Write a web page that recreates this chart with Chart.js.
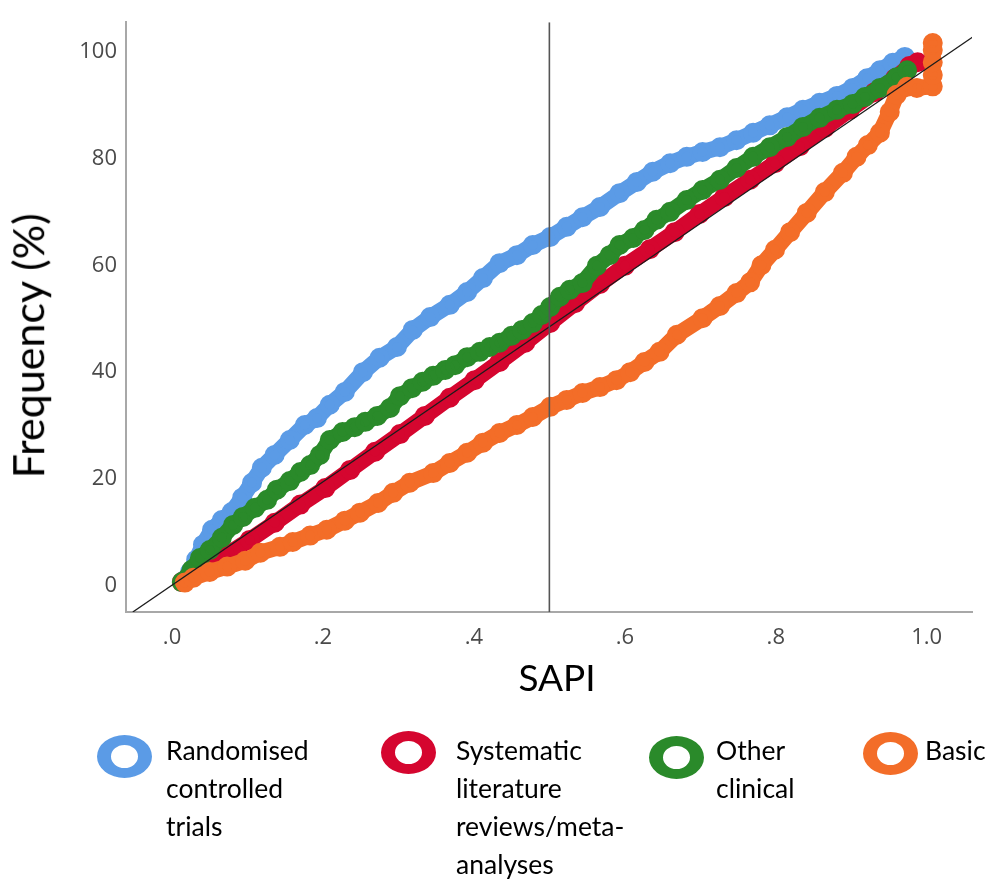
<!DOCTYPE html>
<html>
<head>
<meta charset="utf-8">
<script src="https://cdn.jsdelivr.net/npm/chart.js@4.4.1/dist/chart.umd.min.js"></script>
<style>
  html, body { margin: 0; padding: 0; background: #fff; }
  #wrap { position: relative; width: 986px; height: 886px; overflow: hidden; background: #fff; }
  #c { position: absolute; left: 0; top: 0; }
  .txt { position: absolute; font-family: Lato, "Open Sans", sans-serif; color: #000; line-height: 1.2; white-space: nowrap; }
  #xtitle { font-size: 37px; left: 557px; top: 655px; transform: translateX(-50%); }
  #ytitle { font-size: 43px; width: 320px; text-align: center; left: -131.6px; top: 320.2px; transform: rotate(-90deg); }
  .ring { position: absolute; box-sizing: border-box; border-style: solid; border-width: 10px 14px; border-radius: 50%; width: 55px; height: 43px; }
  .lgtext { position: absolute; font-family: Lato, "Open Sans", sans-serif; font-size: 26.5px; line-height: 38px; color: #000; white-space: nowrap; }
</style>
</head>
<body>
<div id="wrap">
  <canvas id="c" width="986" height="886"></canvas>
  <div class="txt" id="ytitle">Frequency (%)</div>
  <div class="txt" id="xtitle">SAPI</div>
  <div id="legend"></div>
</div>
<script>
// Cumulative frequency (%) of publications against SAPI, by study type
const seriesNames = [
  ["Randomised", "controlled", "trials"],
  ["Systematic", "literature", "reviews/meta-", "analyses"],
  ["Other", "clinical"],
  ["Basic"]
];
const seriesColors = ["#5b9be6", "#d5062f", "#2a8a2a", "#f36d28"];

const rctSapi = [0.015,0.024,0.032,0.041,0.053,0.066,0.079,0.093,0.106,0.119,0.136,0.156,0.176,0.192,0.209,0.229,0.253,0.275,0.298,0.319,0.342,0.368,0.391,0.412,0.434,0.457,0.478,0.501,0.523,0.544,0.567,0.593,0.616,0.637,0.660,0.682,0.703,0.726,0.748,0.770,0.792,0.815,0.836,0.858,0.881,0.902,0.921,0.938,0.955,0.971];
const rctFreq = [0.9,2.6,4.9,7.7,10.5,12.3,13.8,16.5,19.3,22.1,24.5,27.3,30.1,31.4,33.9,36.3,40.0,42.7,44.7,47.9,50.3,52.6,55.0,57.6,60.4,61.9,63.8,65.3,67.2,69.0,70.9,73.5,75.6,77.5,79.1,80.3,81.2,82.1,83.4,84.8,86.2,87.7,89.1,90.4,91.7,93.2,95.0,96.5,97.9,99.0];

const slrSapi = [0.013,0.037,0.070,0.103,0.136,0.170,0.203,0.236,0.269,0.302,0.335,0.368,0.401,0.434,0.468,0.501,0.534,0.567,0.600,0.633,0.666,0.699,0.732,0.766,0.799,0.832,0.865,0.898,0.931,0.958,0.977,0.988];
const slrFreq = [0.7,2.6,5.6,8.6,11.8,15.2,18.3,21.7,25.1,28.4,31.8,35.2,38.5,41.9,45.5,49.2,52.9,56.5,59.9,63.0,66.2,69.6,72.8,76.0,79.1,82.3,85.7,89.1,92.4,95.0,97.3,98.0];

const otherSapi = [0.013,0.026,0.037,0.050,0.066,0.081,0.094,0.110,0.126,0.139,0.156,0.170,0.183,0.196,0.209,0.226,0.242,0.256,0.272,0.289,0.302,0.318,0.332,0.346,0.362,0.375,0.391,0.408,0.421,0.434,0.450,0.464,0.478,0.490,0.501,0.514,0.527,0.544,0.563,0.580,0.593,0.611,0.626,0.642,0.660,0.682,0.703,0.726,0.748,0.770,0.792,0.815,0.836,0.858,0.881,0.902,0.918,0.938,0.960,0.974];
const otherFreq = [0.7,3.0,5.2,6.7,9.0,11.4,12.9,14.6,16.1,18.0,19.6,21.3,22.6,24.5,27.3,28.8,29.7,30.7,31.8,33.3,35.5,37.0,38.2,39.3,40.4,41.3,42.8,43.8,44.7,45.5,46.8,47.9,49.2,50.7,52.2,54.1,55.4,56.7,59.9,61.9,63.8,65.1,66.6,68.5,70.0,72.2,74.1,76.0,78.2,80.3,82.1,84.0,85.9,87.6,89.1,90.2,91.5,93.2,95.2,96.5];

const basicSapi = [0.017,0.028,0.050,0.073,0.097,0.117,0.143,0.160,0.183,0.205,0.229,0.249,0.273,0.293,0.315,0.346,0.368,0.391,0.412,0.434,0.457,0.478,0.501,0.523,0.544,0.567,0.589,0.607,0.626,0.646,0.669,0.703,0.726,0.748,0.766,0.781,0.799,0.819,0.841,0.865,0.889,0.907,0.922,0.938,0.951,0.960,0.974,0.987,1.008,1.008,1.008,1.008,1.008];
const basicFreq = [0.6,1.5,2.6,3.6,4.7,6.2,7.3,8.2,9.4,10.5,12.2,13.7,15.5,17.4,19.3,21.1,23.0,24.9,26.8,28.6,30.1,31.6,33.5,34.8,36.1,37.2,38.5,40.0,41.9,43.8,47.0,50.1,52.4,54.8,56.8,60.0,62.9,66.2,69.8,73.7,77.3,80.3,82.5,84.8,88.7,91.9,93.4,93.2,93.5,95.6,98.0,100.3,101.6];

// Reference lines: SAPI = 0.5 and the diagonal
const refSapi = 0.5;
const diagSapi = [-0.052, 1.07];
const diagFreq = [-4.9, 103.6];

// Axis ranges and ticks
const xMin = -0.061, xMax = 1.06;
const yMin = -4.9, yMax = 105.5;
const xTickValues = [0, 0.2, 0.4, 0.6, 0.8, 1.0];
const xTickLabels = [".0", ".2", ".4", ".6", ".8", "1.0"];
const yTickValues = [0, 20, 40, 60, 80, 100];

const toPoints = (xs, ys) => xs.map((x, i) => ({ x: x, y: ys[i] }));

function bandDataset(idx, xs, ys, order) {
  const col = seriesColors[idx];
  return {
    label: seriesNames[idx].join(" "),
    data: toPoints(xs, ys),
    showLine: true,
    borderColor: col,
    borderWidth: 16,
    borderJoinStyle: "round",
    borderCapStyle: "round",
    tension: 0,
    pointStyle: "circle",
    pointRadius: 7.5,
    pointBorderWidth: 5,
    pointBorderColor: col,
    pointBackgroundColor: "rgba(255,255,255,0)",
    order: order
  };
}

const datasets = [
  {
    label: "SAPI 0.5",
    data: [{ x: refSapi, y: yMin }, { x: refSapi, y: yMax }],
    showLine: true, borderColor: "#555555", borderWidth: 1.6,
    pointRadius: 0, order: 0
  },
  {
    label: "Diagonal",
    data: toPoints(diagSapi, diagFreq),
    showLine: true, borderColor: "#1c1c1c", borderWidth: 1.3,
    pointRadius: 0, order: 0
  },
  bandDataset(3, basicSapi, basicFreq, 1),
  bandDataset(2, otherSapi, otherFreq, 2),
  bandDataset(1, slrSapi, slrFreq, 3),
  bandDataset(0, rctSapi, rctFreq, 4)
];

const tickFont = { family: "'Open Sans', sans-serif", size: 22 };

new Chart(document.getElementById("c"), {
  type: "scatter",
  data: { datasets: datasets },
  options: {
    responsive: false,
    animation: false,
    events: [],
    layout: { padding: { top: 22, right: 14, left: 0, bottom: 0 } },
    plugins: { legend: { display: false }, tooltip: { enabled: false } },
    scales: {
      x: {
        type: "linear", min: xMin, max: xMax,
        grid: { display: false, drawTicks: false },
        border: { display: true, color: "#a8a8a8", width: 2 },
        ticks: {
          padding: 13, font: tickFont, color: "#4a4a4a", maxRotation: 0, autoSkip: false,
          callback: (v) => {
            const i = xTickValues.findIndex(t => Math.abs(t - v) < 1e-9);
            return i >= 0 ? xTickLabels[i] : "";
          }
        },
        afterBuildTicks: (s) => { s.ticks = xTickValues.map(v => ({ value: v })); },
        afterFit: (s) => { s.height = 274; }
      },
      y: {
        type: "linear", min: yMin, max: yMax,
        grid: { display: false, drawTicks: false },
        border: { display: true, color: "#a8a8a8", width: 2 },
        ticks: { padding: 9, font: tickFont, color: "#4a4a4a", autoSkip: false },
        afterBuildTicks: (s) => { s.ticks = yTickValues.map(v => ({ value: v })); },
        afterFit: (s) => { s.width = 126; }
      }
    }
  }
});

// Legend: ring markers with wrapped labels
const ringBoxes = [[97, 735], [381, 731], [649, 736], [863, 732]];
const textLeft = [166, 456, 716, 925];
const legend = document.getElementById("legend");
seriesNames.forEach((lines, i) => {
  const ring = document.createElement("div");
  ring.className = "ring";
  ring.style.left = ringBoxes[i][0] + "px";
  ring.style.top = ringBoxes[i][1] + "px";
  ring.style.borderColor = seriesColors[i];
  legend.appendChild(ring);
  const t = document.createElement("div");
  t.className = "lgtext";
  t.style.left = textLeft[i] + "px";
  t.style.top = "731px";
  t.innerHTML = lines.join("<br>");
  legend.appendChild(t);
});
</script>
</body>
</html>
